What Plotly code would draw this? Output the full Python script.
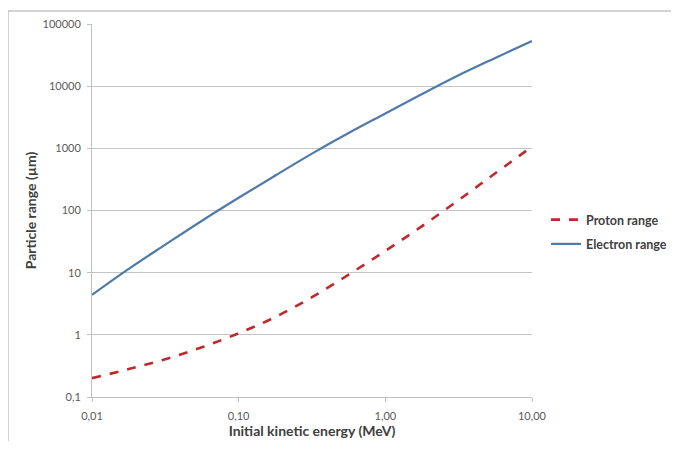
import plotly.graph_objects as go

energy_mev = [0.01, 0.0178, 0.0316, 0.0562, 0.1, 0.178, 0.316, 0.562, 1, 1.78, 3.16, 5.62, 10]
proton_range_um = [0.201, 0.281, 0.406, 0.631, 1.06, 1.94, 4.03, 9.29, 22.4, 56.2, 147, 398, 1064]
electron_range_um = [4.40, 11.5, 28.2, 68.5, 160, 366, 822, 1762, 3631, 7480, 14960, 28440, 53330]

x_tickvals = [0.01, 0.1, 1, 10]
x_ticktext = ["0,01", "0,10", "1,00", "10,00"]
y_tickvals = [0.1, 1, 10, 100, 1000, 10000, 100000]
y_ticktext = ["0,1", "1", "10", "100", "1000", "10000", "100000"]

FONT = "Lato, 'Open Sans', sans-serif"
TICK_COLOR = "#595959"
TITLE_COLOR = "#404040"
GRID = "#c4c4c4"

fig = go.Figure()
fig.add_trace(go.Scatter(
    x=energy_mev, y=proton_range_um, mode="lines", name="Proton range",
    legendgroup="p",
    line=dict(color="#c0282d", width=2.6, dash="dash", shape="spline"),
))
fig.add_trace(go.Scatter(
    x=energy_mev, y=electron_range_um, mode="lines", name="Electron range",
    legendgroup="e",
    line=dict(color="#4f7bab", width=2.2, shape="spline"),
))

# The page body has an 8px default margin: the figure starts at (8, 8).
OFF = 8
SCREEN_W, SCREEN_H = 679, 449
W, H = SCREEN_W - 2 * OFF, SCREEN_H - 2 * OFF
# plot area in screen pixels
SL, SR, ST, SB = 92, 532, 24, 397
L, R, T, B = SL - OFF, SR - OFF, ST - OFF, SB - OFF
pw, ph = R - L, B - T

def px(xs):
    return (xs - SL) / pw

def py(ys):
    return (SB - ys) / ph

fig.update_layout(
    width=W, height=H,
    margin=dict(l=L, r=W - R, t=T, b=H - B, pad=0, autoexpand=False),
    paper_bgcolor="white", plot_bgcolor="white",
    font=dict(family=FONT, size=11, color=TICK_COLOR),
    showlegend=True,
    legend=dict(
        x=px(546), y=py(205), xanchor="left", yanchor="top",
        font=dict(family=FONT, size=12.5, color=TITLE_COLOR, weight="bold"),
        bgcolor="rgba(0,0,0,0)", tracegroupgap=5, itemwidth=30,
    ),
    xaxis=dict(
        type="log", range=[-2, 1],
        tickvals=x_tickvals, ticktext=x_ticktext,
        showgrid=False, showline=True, linecolor="#bfbfbf", linewidth=1,
        ticks="outside", ticklen=4, tickcolor="#bfbfbf",
        ticklabelstandoff=5,
        tickfont=dict(family=FONT, size=11, color=TICK_COLOR),
        title=dict(text="Initial kinetic energy (MeV)", standoff=1,
                   font=dict(family=FONT, size=14, color=TITLE_COLOR, weight="bold")),
        zeroline=False,
    ),
    yaxis=dict(
        type="log", range=[-1, 5],
        tickvals=y_tickvals, ticktext=y_ticktext,
        showgrid=True, gridcolor=GRID, gridwidth=1,
        showline=True, linecolor="#bfbfbf", linewidth=1,
        ticks="outside", ticklen=4, tickcolor="#bfbfbf",
        ticklabelstandoff=4,
        tickfont=dict(family=FONT, size=11, color=TICK_COLOR),
        title=dict(text="Particle range (µm)", standoff=2,
                   font=dict(family=FONT, size=14, color=TITLE_COLOR, weight="bold")),
        zeroline=False,
    ),
    shapes=[dict(
        type="path", xref="paper", yref="paper",
        path=f"M {px(8)} {py(460)} L {px(8)} {py(11)} L {px(700)} {py(11)}",
        line=dict(color="#a6a6a6", width=1),
    )],
)

fig.write_html("out.html")
